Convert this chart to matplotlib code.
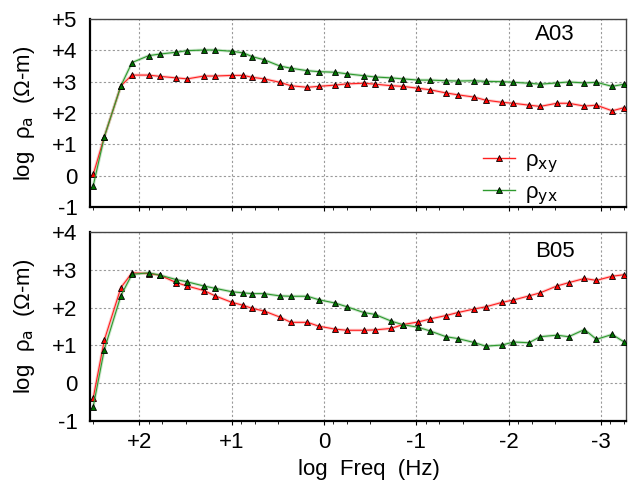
import numpy as np
import matplotlib
matplotlib.use('Agg')
import matplotlib.pyplot as plt
from matplotlib.lines import Line2D

plt.rcParams['font.family'] = ['Liberation Sans', 'DejaVu Sans']

# log10 frequency of each sounding point (Hz)
log_freq = [2.5, 2.38, 2.2, 2.08, 1.9, 1.78, 1.6, 1.48, 1.3, 1.18,
            1.0, 0.875, 0.78, 0.65, 0.48, 0.36, 0.18, 0.06, -0.12, -0.25,
            -0.43, -0.55, -0.73, -0.85, -1.02, -1.15, -1.32, -1.45, -1.62, -1.75,
            -1.93, -2.05, -2.22, -2.34, -2.52, -2.65, -2.82, -2.95, -3.12, -3.25]

# station A03
a03_xy = [0.04, 1.24, 2.87, 3.21, 3.21, 3.17, 3.12, 3.09, 3.18, 3.18,
          3.20, 3.20, 3.14, 3.09, 2.98, 2.87, 2.82, 2.85, 2.89, 2.93,
          2.95, 2.92, 2.87, 2.85, 2.79, 2.74, 2.64, 2.58, 2.51, 2.41,
          2.34, 2.31, 2.25, 2.21, 2.31, 2.31, 2.22, 2.25, 2.07, 2.17]
a03_yx = [-0.32, 1.24, 2.87, 3.61, 3.83, 3.88, 3.94, 3.99, 4.01, 4.01,
          3.97, 3.92, 3.80, 3.70, 3.50, 3.43, 3.35, 3.32, 3.30, 3.25,
          3.19, 3.15, 3.12, 3.09, 3.05, 3.05, 3.03, 3.02, 3.03, 3.01,
          3.00, 2.98, 2.95, 2.92, 2.96, 2.99, 2.96, 2.98, 2.85, 2.92]

# station B05
b05_xy = [-0.39, 1.14, 2.53, 2.92, 2.90, 2.86, 2.66, 2.57, 2.45, 2.31,
          2.14, 2.06, 1.98, 1.91, 1.75, 1.61, 1.61, 1.51, 1.43, 1.40,
          1.40, 1.41, 1.45, 1.55, 1.62, 1.70, 1.79, 1.87, 1.96, 2.02,
          2.14, 2.20, 2.31, 2.39, 2.57, 2.66, 2.77, 2.72, 2.83, 2.87]
b05_yx = [-0.62, 0.89, 2.32, 2.88, 2.92, 2.86, 2.74, 2.68, 2.57, 2.51,
          2.42, 2.39, 2.37, 2.37, 2.31, 2.30, 2.30, 2.21, 2.12, 2.02,
          1.87, 1.82, 1.64, 1.55, 1.48, 1.38, 1.23, 1.18, 1.08, 0.98,
          1.01, 1.09, 1.07, 1.23, 1.27, 1.23, 1.42, 1.16, 1.29, 1.09]

x_ticks = [2, 1, 0, -1, -2, -3]
x_ticklabels = ['+2', '+1', '0', '-1', '-2', '-3']
x_minor = [2.5, 1.9, 1.75, 1.5, 0.9, 0.75, 0.5, -0.1, -0.25, -0.5,
           -1.1, -1.25, -1.5, -2.1, -2.25, -2.5, -3.1, -3.25]

XY_LINE, XY_HALO, XY_FACE = '#ff2020', '#ff9090', '#ff0000'
YX_LINE, YX_HALO, YX_FACE = '#2e9a2e', '#90c890', '#007000'
FS = 16

W, H = 631, 482
fig = plt.figure(figsize=(W / 100, H / 100), dpi=100)

def px_axes(left, top, right, bottom):
	return fig.add_axes([left / W, 1 - bottom / H, (right - left) / W, (bottom - top) / H])

def draw_curve(ax, ys, line_c, halo_c, face_c):
	ax.plot(log_freq, ys, color=halo_c, lw=2.2, alpha=0.45, zorder=2, solid_capstyle='round')
	ax.plot(log_freq, ys, color=line_c, lw=0.8, zorder=3, marker='^', markersize=5,
		markerfacecolor=face_c, markeredgecolor='black', markeredgewidth=0.6)

def style(ax, ymin, ymax, name, name_y, show_x):
	ax.set_xlim(2.535, -3.27)
	ax.set_ylim(ymin, ymax)
	yt = list(range(ymin, ymax + 1))
	ax.set_yticks(yt)
	ax.set_yticklabels([('+%d' % v) if v > 0 else str(v) for v in yt])
	ax.set_xticks(x_ticks)
	ax.set_xticks(x_minor, minor=True)
	if show_x:
		ax.set_xticklabels(x_ticklabels)
	else:
		ax.set_xticklabels([])
	ax.tick_params(axis='y', length=0, pad=9, labelsize=FS)
	ax.tick_params(axis='x', which='major', length=3, width=0.8, pad=5, labelsize=FS)
	ax.tick_params(axis='x', which='minor', length=2, width=0.6)
	ax.grid(True, which='major', color='#9a9a9a', lw=0.8, linestyle=(0, (2, 2)))
	for s in ('left', 'bottom'):
		ax.spines[s].set_linewidth(1.6)
		ax.spines[s].set_color('black')
	for s in ('top', 'right'):
		ax.spines[s].set_linewidth(1.0)
		ax.spines[s].set_color('#444444')
	ax.text(0.868, name_y, name, transform=ax.transAxes, ha='center', va='center', fontsize=FS)
	ax.set_ylabel('log  ρ$_\\mathrm{a}$  (Ω-m)', fontsize=FS, labelpad=11)

ax1 = px_axes(90, 19, 626, 207)
ax2 = px_axes(90, 232, 626, 421)

draw_curve(ax1, a03_xy, XY_LINE, XY_HALO, XY_FACE)
draw_curve(ax1, a03_yx, YX_LINE, YX_HALO, YX_FACE)
draw_curve(ax2, b05_xy, XY_LINE, XY_HALO, XY_FACE)
draw_curve(ax2, b05_yx, YX_LINE, YX_HALO, YX_FACE)

style(ax1, -1, 5, 'A03', 0.917, False)
style(ax2, -1, 4, 'B05', 0.896, True)

handles = [Line2D([], [], color=XY_LINE, lw=1.0, marker='^', markersize=5,
		markerfacecolor=XY_FACE, markeredgecolor='black', markeredgewidth=0.6),
	Line2D([], [], color=YX_LINE, lw=1.0, marker='^', markersize=5,
		markerfacecolor=YX_FACE, markeredgecolor='black', markeredgewidth=0.6)]
ax1.legend(handles, ['ρ$_\\mathrm{xy}$', 'ρ$_\\mathrm{yx}$'], loc='upper left',
	bbox_to_anchor=(0.717, 0.35), frameon=False, fontsize=FS, handlelength=1.45,
	labelspacing=0.33, handletextpad=0.45, borderaxespad=0)

ax2.set_xlabel('log  Freq  (Hz)', fontsize=FS, labelpad=3)
ax2.xaxis.set_label_coords(0.52, -0.2)

fig.savefig('out.png', dpi=100)
